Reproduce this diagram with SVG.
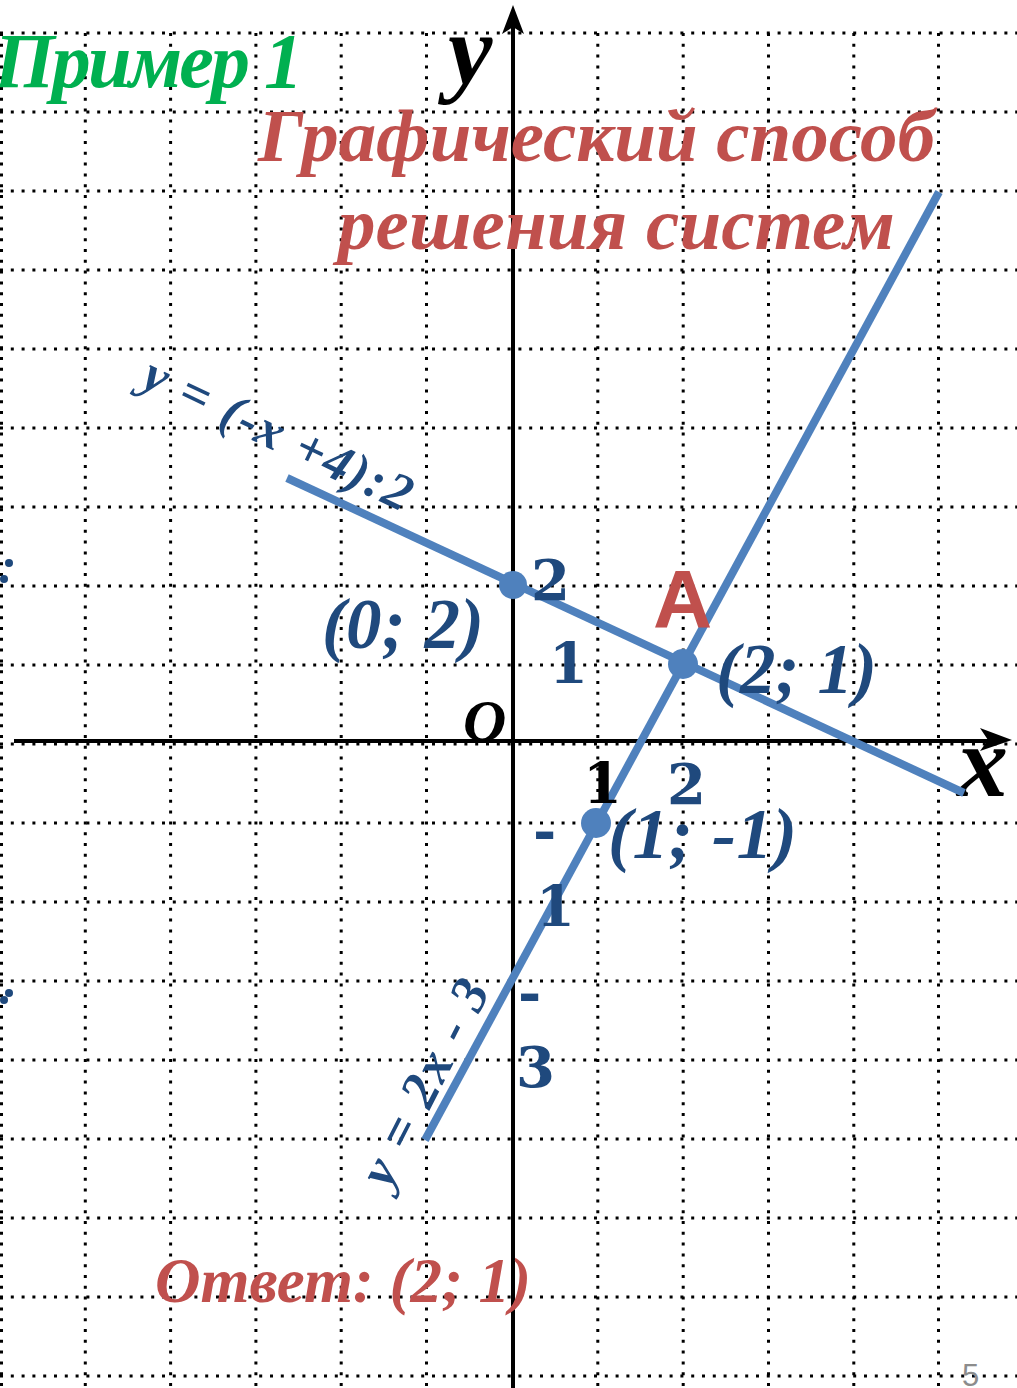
<svg xmlns="http://www.w3.org/2000/svg" width="1017" height="1388" viewBox="0 0 1017 1388">
<style>
.grid line{stroke:#000;stroke-width:3;stroke-dasharray:3 7.8}
.axis{stroke:#000;stroke-width:4;fill:none}
.graph{stroke:#4F81BD;stroke-width:8;fill:none}
.pt{fill:#4F81BD}
.it{font-family:"Liberation Serif","Times New Roman",serif;font-style:italic;font-weight:bold}
.num{font-family:"DejaVu Serif","Liberation Serif",serif;font-weight:bold;font-size:56px}
.blue{fill:#1F497D}
.red{fill:#C0504D}
.green{fill:#00B050}
.blk{fill:#000}
</style>
<rect width="1017" height="1388" fill="#fff"/>
<g id="grid" class="grid">
<line x1="0" y1="33" x2="1017" y2="33"/>
<line x1="0" y1="112" x2="1017" y2="112"/>
<line x1="0" y1="191" x2="1017" y2="191"/>
<line x1="0" y1="270" x2="1017" y2="270"/>
<line x1="0" y1="349" x2="1017" y2="349"/>
<line x1="0" y1="428" x2="1017" y2="428"/>
<line x1="0" y1="507" x2="1017" y2="507"/>
<line x1="0" y1="586" x2="1017" y2="586"/>
<line x1="0" y1="665" x2="1017" y2="665"/>
<line x1="0" y1="744" x2="1017" y2="744"/>
<line x1="0" y1="823" x2="1017" y2="823"/>
<line x1="0" y1="902" x2="1017" y2="902"/>
<line x1="0" y1="981" x2="1017" y2="981"/>
<line x1="0" y1="1060" x2="1017" y2="1060"/>
<line x1="0" y1="1139" x2="1017" y2="1139"/>
<line x1="0" y1="1218" x2="1017" y2="1218"/>
<line x1="0" y1="1297" x2="1017" y2="1297"/>
<line x1="0" y1="1376" x2="1017" y2="1376"/>
<line x1="1.5" y1="33" x2="1.5" y2="1388"/>
<line x1="85.3" y1="33" x2="85.3" y2="1388"/>
<line x1="170.6" y1="33" x2="170.6" y2="1388"/>
<line x1="255.9" y1="33" x2="255.9" y2="1388"/>
<line x1="341.2" y1="33" x2="341.2" y2="1388"/>
<line x1="426.5" y1="33" x2="426.5" y2="1388"/>
<line x1="597.8" y1="33" x2="597.8" y2="1388"/>
<line x1="683.2" y1="33" x2="683.2" y2="1388"/>
<line x1="768.5" y1="33" x2="768.5" y2="1388"/>
<line x1="853.8" y1="33" x2="853.8" y2="1388"/>
<line x1="938.5" y1="33" x2="938.5" y2="1388"/>
</g>
<g id="axes">
<line class="axis" x1="14" y1="741" x2="1000" y2="741"/>
<polygon points="1012,740 980,728 988,740 980,751" fill="#000"/>
<line class="axis" x1="513" y1="1388" x2="513" y2="20"/>
<polygon points="513,5 502,34 513,27 524,34" fill="#000"/>
<text class="it blk" x="448" y="84" font-size="100">y</text>
<text class="it blk" x="957" y="796" font-size="102">x</text>
<text class="it blk" x="463" y="741" font-size="60">O</text>
</g>
<g id="connectors">
<line id="line1" class="graph" x1="287" y1="478" x2="964" y2="793"/>
<line id="line2" class="graph" x1="425" y1="1140" x2="939" y2="192"/>
</g>
<g id="node-0-2">
<circle class="pt" cx="513" cy="585" r="14"/>
<text class="it blue" x="322" y="648" font-size="71" textLength="162">(0; 2)</text>
</g>
<g id="node-2-1">
<circle class="pt" cx="683" cy="664" r="15"/>
<text class="it blue" x="716" y="693" font-size="71" textLength="161">(2; 1)</text>
<text x="653" y="627" font-family="Liberation Sans,Arial,sans-serif" font-weight="bold" font-size="82" class="red">A</text>
</g>
<g id="node-1-m1">
<circle class="pt" cx="596" cy="823" r="15"/>
<text class="it blue" x="608" y="858" font-size="72" textLength="189">(1; -1)</text>
</g>
<g id="ticks">
<text class="num blue" x="531" y="600">2</text>
<text class="num blue" x="549" y="683">1</text>
<text class="num blk" x="583" y="803">1</text>
<text class="num blue" x="667" y="804">2</text>
<text class="num blue" x="533" y="850">-</text>
<text class="num blue" x="536" y="926">1</text>
<text class="num blue" x="518" y="1012">-</text>
<text class="num blue" x="516" y="1087">3</text>
</g>
<g id="labels">
<text class="it blue" font-size="52" x="139" y="386" transform="rotate(25.6 139 386)" textLength="292">y = (-x +4):2</text>
<text class="it blue" font-size="53" x="389" y="1190" transform="rotate(-63 389 1190)" textLength="224">y = 2x - 3</text>
</g>
<g id="titles">
<text class="it green" x="-6" y="87" font-size="78" textLength="309">Пример 1</text>
<text class="it red" x="258" y="161" font-size="75" textLength="677">Графический способ</text>
<text class="it red" x="338" y="249" font-size="75" textLength="557">решения систем</text>
<text class="it red" x="155" y="1302" font-size="63" textLength="376">Ответ: (2; 1)</text>
</g>
<g id="edge-marks">
<circle cx="9" cy="563" r="4" fill="#1F497D"/>
<circle cx="4" cy="579" r="4" fill="#1F497D"/>
<circle cx="9" cy="993" r="4" fill="#1F497D"/>
<circle cx="4" cy="1000" r="4" fill="#1F497D"/>
</g>
<text x="962" y="1386" font-family="Liberation Sans,Arial,sans-serif" font-size="31" fill="#8C8C8C">5</text>
</svg>
